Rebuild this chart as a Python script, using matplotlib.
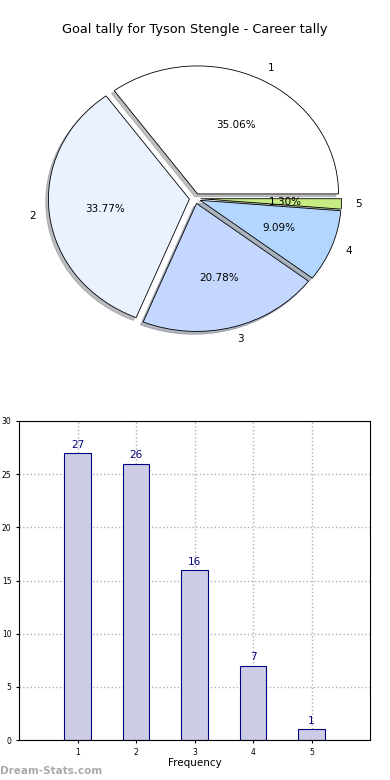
import matplotlib
matplotlib.use("Agg")
import matplotlib.pyplot as plt

categories = ["1", "2", "3", "4", "5"]
tally = [27, 26, 16, 7, 1]
pie_colors = ["#ffffff", "#eaf1ff", "#c4d8ff", "#b3d6ff", "#c8ec84"]
yticks = [0, 5, 10, 15, 20, 25, 30]

fig = plt.figure(figsize=(3.9, 7.8), dpi=100)

fig.text(0.5, 1 - 30 / 780, "Goal tally for Tyson Stengle - Career tally",
         ha="center", va="center", fontsize=9.3)

# Pie (elliptical, as in the reference)
rx, ry = 141.0, 128.0
cx, cy = 195.0, 780 - 198.5
axp = fig.add_axes([(cx - 1.4 * rx) / 390, (cy - 1.4 * ry) / 780,
                    2.8 * rx / 390, 2.8 * ry / 780])
wedges, texts, autotexts = axp.pie(
    tally, labels=categories, colors=pie_colors, autopct="%.2f%%",
    startangle=0, counterclock=True, explode=[0.04] * 5,
    shadow=dict(ox=-0.014, oy=-0.016, shade=0.5),
    wedgeprops=dict(edgecolor="black", linewidth=0.6),
    textprops=dict(fontsize=7.5))
axp.set_aspect("auto")
axp.set_xlim(-1.4, 1.4)
axp.set_ylim(-1.4, 1.4)
axp.axis("off")

# Bars
axb = fig.add_axes([19 / 390, 40 / 780, 351 / 390, 319 / 780])
x = list(range(1, len(categories) + 1))
bars = axb.bar(x, tally, width=0.45, color="#ccccE6", edgecolor="navy",
               linewidth=0.8, zorder=2)
for xi, v in zip(x, tally):
    axb.text(xi, v + 0.3, str(v), ha="center", va="bottom",
             color="navy", fontsize=7.5)
axb.set_xlim(0, 6)
axb.set_ylim(0, 30)
axb.set_xticks(x)
axb.set_xticklabels(categories)
axb.set_yticks(yticks)
axb.tick_params(labelsize=5.5, length=2)
axb.grid(True, linestyle=":", color="#b0b0b0", linewidth=1.0, zorder=0)
axb.set_axisbelow(True)
axb.set_xlabel("Frequency", fontsize=7.5, labelpad=1)
axb.set_ylabel("Goal Tally", fontsize=7.5)
axb.yaxis.set_label_coords(-0.058, 0.5)

fig.text(0.0, 1 - 771 / 780, "Dream-Stats.com", ha="left", va="center",
         fontsize=7.5, color="#aaaaaa", fontweight="bold")

fig.savefig("out.png", dpi=100)
